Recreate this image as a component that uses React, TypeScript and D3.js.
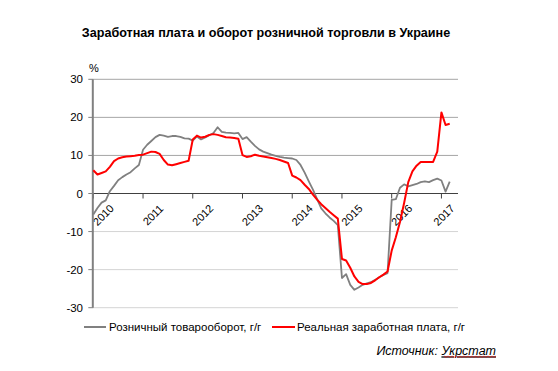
import React from "react";
import * as d3 from "d3";

const title = "Заработная плата и оборот розничной торговли в Украине";
const yearLabels = [2010, 2011, 2012, 2013, 2014, 2015, 2016, 2017];
const yTicks = [-30, -20, -10, 0, 10, 20, 30];
const seriesNames = ["Розничный товарооборот, г/г", "Реальная заработная плата, г/г"];

// monthly, Jan 2010 .. Mar 2017
const retail = [
  -5.5, -3.8, -2.4, -1.8, 0.6, 2.0, 3.5, 4.3, 5.0, 5.6, 6.6, 7.5,
  11.5, 12.8, 13.8, 14.8, 15.4, 15.2, 14.9, 15.1, 15.1, 14.9, 14.5, 14.4,
  13.9, 15.0, 14.2, 14.7, 15.3, 15.9, 17.4, 16.2, 16.0, 15.9, 15.8, 15.9,
  14.3, 14.8, 13.6, 12.5, 11.6, 11.0, 10.6, 10.2, 9.9, 9.6, 9.4, 9.3,
  9.2, 8.8, 7.5, 5.5, 3.2, 1.0, -1.5, -3.9, -5.2, -6.3, -7.2, -8.3,
  -22.2, -21.2, -24.0, -25.3, -24.7, -24.0, -23.6, -23.3, -22.7, -22.0, -21.4, -20.9,
  -1.7, -1.5, 1.5, 2.4, 1.9, 2.2, 2.5, 3.0, 3.2, 3.0, 3.5, 3.9,
  3.4, 0.5, 3.1,
];
const wages = [
  6.1, 5.0, 5.4, 5.8, 7.0, 8.5, 9.2, 9.5, 9.7, 9.8, 9.9, 10.1,
  10.2, 10.6, 11.0, 10.9, 10.4, 8.8, 7.6, 7.4, 7.7, 8.0, 8.3, 8.6,
  14.2, 15.2, 14.7, 14.9, 15.4, 15.6, 15.4, 15.1, 14.8, 14.7, 14.6, 14.4,
  10.1, 9.6, 9.8, 10.2, 9.9, 9.7, 9.5, 9.3, 9.1, 8.8, 8.4, 8.0,
  4.7, 4.2, 3.5, 2.3, 1.2, -0.3, -1.6, -2.8, -3.8, -4.8, -5.7, -6.6,
  -17.2, -17.6, -19.5, -21.8, -23.2, -23.8, -23.8, -23.5, -22.8, -22.0, -21.3, -20.5,
  -15.0, -11.5, -7.5, -2.5, 3.0, 5.8, 7.3, 8.3, 8.3, 8.3, 8.3, 11.0,
  21.3, 18.0, 18.3,
];

const FONT = "'Liberation Sans', Arial, sans-serif";

export default function App() {
  const W = 558, H = 371;
  const x = d3.scaleLinear().domain([0, 88]).range([93.3, 458]);
  const y = d3.scaleLinear().domain([-30, 30]).range([307.7, 79.3]);
  const [x0, x1] = x.range();
  const line = d3
    .line<number>()
    .x((_, i) => x(i))
    .y((d) => y(d));

  const legendY = 327;
  const srcText = "Источник: ";
  const srcName = "Укрстат";
  const srcRight = 496;
  const srcNameW = 52;
  const zig = d3.range(0, srcNameW + 0.1, 2).map((dx, k) => [srcRight - srcNameW + dx, 356 + (k % 2 ? 1.5 : 0)] as [number, number]);

  return (
    <svg width={W} height={H} style={{ position: "absolute", left: 0, top: 0, background: "#fff" }}>
      <text x={266} y={37} textAnchor="middle" fontFamily={FONT} fontWeight="bold" fontSize={12.6} fill="#000">
        {title}
      </text>
      <text x={89} y={72} fontFamily={FONT} fontSize={11} fill="#000">%</text>

      {yTicks.map((t) =>
        t === 0 ? null : (
          <line key={"g" + t} x1={x0} x2={x1} y1={y(t)} y2={y(t)} stroke={t > 0 ? "#a6a6a6" : "#d4d4d4"} strokeWidth={1} />
        )
      )}
      {yTicks.map((t) => (
        <g key={"yt" + t}>
          <line x1={x0 - 5} x2={x0} y1={y(t)} y2={y(t)} stroke="#808080" strokeWidth={1} />
          <text x={83} y={y(t)} dy="0.35em" textAnchor="end" fontFamily={FONT} fontSize={11.5} fill="#000">
            {t < 0 ? "-" + Math.abs(t) : String(t)}
          </text>
        </g>
      ))}
      <line x1={x0} x2={x1} y1={y(0)} y2={y(0)} stroke="#404040" strokeWidth={1} />
      {yearLabels.map((yr, k) => {
        const xi = x(k * 12);
        const lx = Math.min(xi + 10, x1 - 14);
        return (
          <g key={"xt" + yr}>
            <line x1={xi} x2={xi} y1={y(0)} y2={y(0) + 5} stroke="#404040" strokeWidth={1} />
            <text
              transform={`translate(${lx},215) rotate(-45)`}
              textAnchor="middle"
              dy="0.35em"
              fontFamily={FONT}
              fontSize={11}
              fill="#000"
            >
              {yr}
            </text>
          </g>
        );
      })}
      <line x1={x0 - 0.5} x2={x0 - 0.5} y1={y(30)} y2={y(-30)} stroke="#808080" strokeWidth={2} />

      <path d={line(retail) || ""} fill="none" stroke="#808080" strokeWidth={1.8} strokeLinejoin="round" />
      <path d={line(wages) || ""} fill="none" stroke="#ff0000" strokeWidth={2} strokeLinejoin="round" />

      <line x1={84} x2={106} y1={legendY} y2={legendY} stroke="#808080" strokeWidth={2} />
      <text x={109} y={legendY} dy="0.35em" fontFamily={FONT} fontSize={11.5} fill="#000">{seriesNames[0]}</text>
      <line x1={272} x2={295} y1={legendY} y2={legendY} stroke="#ff0000" strokeWidth={2} />
      <text x={297} y={legendY} dy="0.35em" fontFamily={FONT} fontSize={11.5} fill="#000">{seriesNames[1]}</text>

      <text x={srcRight} y={351} dy="0.35em" textAnchor="end" fontFamily={FONT} fontSize={12.5} fontStyle="italic" fill="#000">
        {srcText}
        <tspan textDecoration="underline">{srcName}</tspan>
      </text>
      <path d={d3.line()(zig) || ""} fill="none" stroke="#ff0000" strokeWidth={0.6} />
    </svg>
  );
}
